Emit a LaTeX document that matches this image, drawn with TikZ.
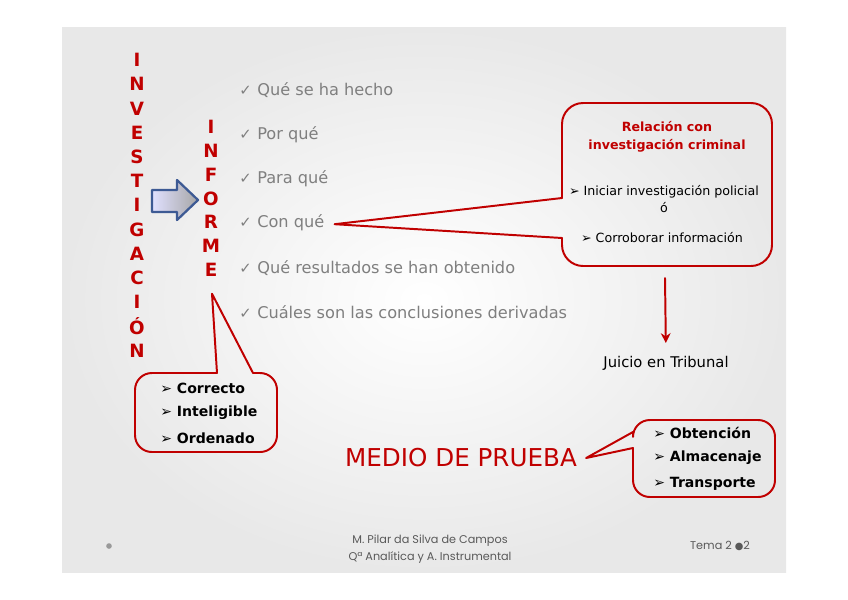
\documentclass[tikz,border=0pt]{standalone}
\usepackage{fontspec}
\setmainfont{DejaVu Sans}
\newfontfamily\footfont{Poppins}
\usetikzlibrary{arrows.meta,positioning,calc}
\definecolor{slidered}{HTML}{C00000}
\definecolor{textgray}{HTML}{7F7F7F}
\definecolor{arrowblue}{HTML}{3D5A94}
\definecolor{footgray}{HTML}{595959}
\tikzset{
    every picture/.style={line cap=round,line join=round},
    vletter/.style={text=slidered,inner sep=0pt,
      font=\bfseries\fontsize{13}{13}\selectfont},
    checkitem/.style={anchor=west,text=textgray,inner sep=0pt,
      font=\fontsize{11.5}{13}\selectfont},
    calloutline/.style={draw=slidered,line width=1.4pt},
    boxtitle/.style={text=slidered,align=center,inner sep=0pt,
      font=\bfseries\fontsize{9}{12.5}\selectfont},
    boxitem/.style={text=black,align=center,inner sep=0pt,
      font=\fontsize{9}{12}\selectfont},
    bolditem/.style={anchor=west,text=black,inner sep=0pt,
      font=\bfseries\fontsize{10}{11}\selectfont},
    redarrow/.style={-{Stealth[length=7pt,width=7pt]},draw=slidered,
      line width=1.4pt},
    foottext/.style={text=footgray,align=center,inner sep=0pt,
      font=\footfont\fontsize{8}{12}\selectfont}
}
\begin{document}
\begin{tikzpicture}[x=0.025cm,y=-0.025cm]
  \useasboundingbox (0,0) rectangle (848,599);
  \fill[white] (0,0) rectangle (848,599);
  \shade[inner color=white,outer color=gray!18] (62,27) rectangle (786,572);

  % vertical words
  \foreach \l [count=\i from 0] in {I,N,V,E,S,T,I,G,A,C,I,Ó,N}
    \node[vletter] (inv\i) at (137,60+24.2*\i) {\l};
  \foreach \l [count=\i from 0] in {I,N,F,O,R,M,E}
    \node[vletter] (inf\i) at (211,127+23.8*\i) {\l};

  % block arrow
  \path[draw=arrowblue,line width=1.6pt,left color=blue!12,right color=gray!70]
    (152,190) -- (177,190) -- (177,180) -- (198,200) -- (177,220)
    -- (177,212) -- (152,212) -- cycle;

  % questions
  \foreach \t [count=\i from 0] in {Qué se ha hecho,Por qué,Para qué,Con qué,
      Qué resultados se han obtenido,Cuáles son las conclusiones derivadas}
    \node[checkitem] (chk\i) at (239,90+44.4*\i)
      {{\fontsize{10.5}{10}\selectfont ✓}\kern4pt\t};

  % callout: investigacion criminal
  \coordinate (tipA) at ($(chk3.east)+(10,1)$);
  \draw[calloutline,rounded corners=15] (562,198) -- (562,103) -- (772,103)
    -- (772,266) -- (562,266) -- (562,238);
  \draw[calloutline] (562,238) -- (tipA) -- (562,198);
  \node[boxtitle] (rel) at (667,137) {Relación con\\investigación criminal};
  \node[boxitem] (ini) at (664,199) {➢ Iniciar investigación policial\\ó};
  \node[boxitem] (cor) at (662,238) {➢ Corroborar información};

  \coordinate (boxA) at (665,278);
  \node[boxitem,font=\fontsize{10.5}{12}\selectfont] (juicio) at (666,363) {Juicio en Tribunal};
  \draw[redarrow] (boxA) -- (juicio.north) [shorten >=9pt];

  % callout: informe
  \coordinate (tipB) at ($(inf6.south)+(1,17)$);
  \draw[calloutline,rounded corners=12] (217,373) -- (135,373) -- (135,452)
    -- (277,452) -- (277,373) -- (253,373);
  \draw[calloutline] (253,373) -- (tipB) -- (217,373);
  \node[bolditem] (corr) at (160,388) {➢ Correcto};
  \node[bolditem] (intel) at (160,413) {➢ Inteligible};
  \node[bolditem] (orden) at (160,438) {➢ Ordenado};

  % medio de prueba
  \node[text=slidered,inner sep=0pt,font=\fontsize{17.5}{19}\selectfont]
    (medio) at (461,458) {MEDIO DE PRUEBA};
  \coordinate (tipC) at ($(medio.east)+(9,0)$);
  \draw[calloutline,rounded corners=12] (633,448) -- (633,497) -- (775,497)
    -- (775,420) -- (633,420) -- (633,432);
  \draw[calloutline] (633,432) -- (tipC) -- (633,448);
  \node[bolditem] (obt) at (653,433) {➢ Obtención};
  \node[bolditem] (alm) at (653,458) {➢ Almacenaje};
  \node[bolditem] (tra) at (653,484) {➢ Transporte};

  % footer
  \node[circle,fill=gray!80,inner sep=0pt,minimum size=4pt] (fdot) at (109,546) {};
  \node[foottext] (autor) at (430,549)
    {M. Pilar da Silva de Campos\\Qª Analítica y A. Instrumental};
  \node[foottext] (tema) at (720,546) {Tema 2 {\fontsize{7}{7}\selectfont\rmfamily ●}2};
\end{tikzpicture}
\end{document}
